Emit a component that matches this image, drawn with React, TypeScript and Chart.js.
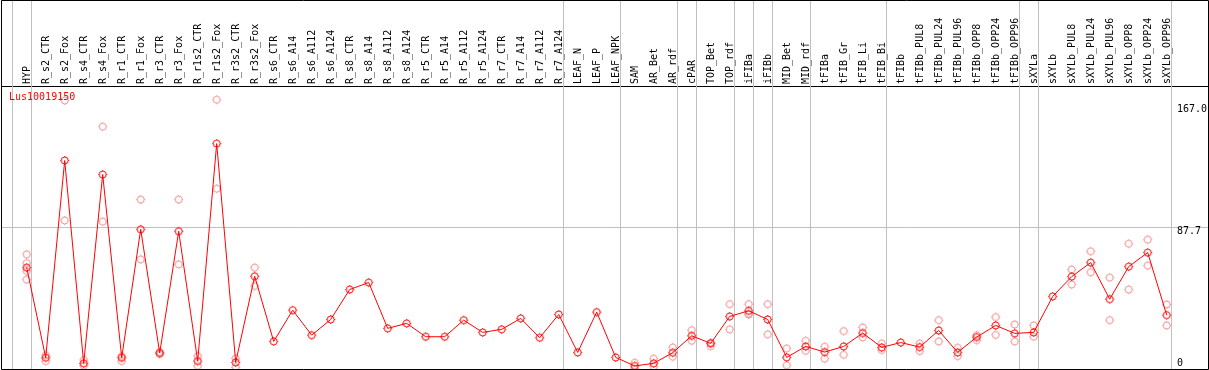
import React, { useEffect, useRef } from 'react';
import { Chart, registerables } from 'chart.js';

Chart.register(...registerables);

const seriesName = 'Lus10019150';

const categories = [
  'HYP', 'R_s2_CTR', 'R_s2_Fox', 'R_s4_CTR', 'R_s4_Fox', 'R_r1_CTR', 'R_r1_Fox', 'R_r3_CTR', 'R_r3_Fox',
  'R_r1s2_CTR', 'R_r1s2_Fox', 'R_r3s2_CTR', 'R_r3s2_Fox', 'R_s6_CTR', 'R_s6_A14', 'R_s6_A112', 'R_s6_A124',
  'R_s8_CTR', 'R_s8_A14', 'R_s8_A112', 'R_s8_A124', 'R_r5_CTR', 'R_r5_A14', 'R_r5_A112', 'R_r5_A124',
  'R_r7_CTR', 'R_r7_A14', 'R_r7_A112', 'R_r7_A124', 'LEAF_N', 'LEAF_P', 'LEAF_NPK', 'SAM', 'AR_Bet', 'AR_rdf',
  'cPAR', 'TOP_Bet', 'TOP_rdf', 'iFIBa', 'iFIBb', 'MID_Bet', 'MID_rdf', 'tFIBa', 'tFIB_Gr', 'tFIB_Li', 'tFIB_Bi',
  'tFIBb', 'tFIBb_PUL8', 'tFIBb_PUL24', 'tFIBb_PUL96', 'tFIBb_OPP8', 'tFIBb_OPP24', 'tFIBb_OPP96', 'sXYLa',
  'sXYLb', 'sXYLb_PUL8', 'sXYLb_PUL24', 'sXYLb_PUL96', 'sXYLb_OPP8', 'sXYLb_OPP24', 'sXYLb_OPP96',
];

const meanValues = [
  62.9, 7.0, 129.3, 3.5, 120.6, 7.0, 86.6, 9.9, 85.4,
  4.9, 139.8, 4.1, 57.5, 17.1, 36.5, 21.0, 30.7,
  49.3, 53.6, 25.2, 28.3, 20.0, 20.0, 30.3, 22.7,
  24.6, 31.4, 19.4, 33.8, 10.3, 35.3, 7.2, 1.9, 3.5, 10.1,
  20.6, 15.9, 32.6, 36.1, 30.7, 7.2, 14.0, 10.5, 14.0, 22.3, 13.4,
  16.4, 13.6, 23.9, 10.3, 19.8, 27.0, 22.1, 22.7,
  45.0, 57.3, 66.0, 43.3, 63.5, 72.2, 33.4,
];

const replicateValues: number[][] = [
  [71.1, 65.7, 60.8, 55.5], [8.5, 4.9], [166.5, 92.1], [5.6, 2.0], [150.3, 91.4], [8.0, 4.9], [105.1, 68.0], [10.5, 9.3], [105.1, 64.9],
  [8.0, 1.9], [167.0, 111.8], [6.6, 1.1], [62.9, 51.5], [], [], [], [],
  [], [], [], [], [], [], [], [],
  [], [], [], [], [], [], [], [3.9, 0.0], [6.4, 1.4], [13.4, 7.6],
  [24.1, 17.5], [16.3, 14.2], [40.2, 24.6], [40.2, 34.3, 33.8], [40.2, 21.5], [12.8, 2.3], [17.5, 11.3], [13.8, 6.4], [23.5, 8.8], [25.8, 19.6], [15.9, 11.8],
  [], [15.9, 11.1], [30.3, 17.1], [13.2, 8.0], [21.0, 17.9], [32.2, 21.2], [27.6, 17.1], [27.0, 20.0],
  [], [61.7, 52.4], [73.0, 60.0], [56.7, 30.3], [77.7, 49.3], [80.2, 64.1], [40.0, 27.0],
];

const yTickValues = [0, 87.7, 167.0];
const yMax = 175.5;

// index of the last category in each group (separator drawn just after it)
const groupEnds = [-1, 0, 28, 31, 34, 35, 37, 38, 39, 41, 45, 52, 53, 60];

const FONT = 'DejaVu Sans Mono';

function makeMarker(color: string): HTMLCanvasElement {
  const c = document.createElement('canvas');
  c.width = 11;
  c.height = 11;
  const g = c.getContext('2d') as CanvasRenderingContext2D;
  g.strokeStyle = color;
  g.fillStyle = color;
  g.lineWidth = 1;
  g.beginPath();
  g.arc(5.5, 5.5, 3.5, 0, Math.PI * 2);
  g.stroke();
  g.fillRect(5, 1, 1, 1);
  g.fillRect(5, 9, 1, 1);
  g.fillRect(1, 5, 1, 1);
  g.fillRect(9, 5, 1, 1);
  return c;
}

const decorPlugin = {
  id: 'decor',
  beforeDatasetsDraw(chart: any) {
    const { ctx, chartArea } = chart;
    const xs = chart.scales.x;
    ctx.save();
    ctx.strokeStyle = '#c0c0c0';
    ctx.lineWidth = 1;
    ctx.beginPath();
    for (const g of groupEnds) {
      const px = Math.round(xs.getPixelForValue(g) + 4) + 0.5;
      ctx.moveTo(px, 0);
      ctx.lineTo(px, chartArea.bottom);
    }
    ctx.stroke();
    ctx.restore();
  },
  afterDraw(chart: any) {
    const { ctx, chartArea } = chart;
    const ys = chart.scales.y;
    ctx.save();
    // outer frame
    ctx.strokeStyle = '#000';
    ctx.lineWidth = 1;
    ctx.beginPath();
    ctx.moveTo(chartArea.left + 0.5, 0.5);
    ctx.lineTo(chartArea.right + 0.5, 0.5);
    ctx.lineTo(chartArea.right + 0.5, chartArea.bottom + 0.5);
    ctx.lineTo(chartArea.left + 0.5, chartArea.bottom + 0.5);
    ctx.closePath();
    ctx.stroke();
    // series name
    ctx.font = `10px "${FONT}"`;
    ctx.fillStyle = '#ff0000';
    ctx.textAlign = 'left';
    ctx.textBaseline = 'middle';
    ctx.fillText(seriesName, chartArea.left + 8, chartArea.top + 11);
    // value labels on the right
    ctx.fillStyle = '#000';
    for (const v of yTickValues) {
      const py = ys.getPixelForValue(v);
      const y = Math.min(Math.max(py + 4, chartArea.top + 23), chartArea.bottom - 6);
      ctx.fillText(v === 0 ? '0' : v.toFixed(1), chartArea.right - 31, y);
    }
    ctx.restore();
  },
};

export default function App() {
  const ref = useRef<HTMLCanvasElement | null>(null);

  useEffect(() => {
    const canvas = ref.current;
    if (!canvas) return;
    const redMarker = makeMarker('#ff0000');
    const pinkMarker = makeMarker('#f09090');
    const meanData = meanValues.map((v, i) => ({ x: i, y: v }));
    const repData: { x: number; y: number }[] = [];
    replicateValues.forEach((vals, i) => vals.forEach((v) => repData.push({ x: i, y: v })));

    const chart = new Chart(canvas, {
      type: 'line',
      data: {
        datasets: [
          {
            label: seriesName,
            data: meanData,
            borderColor: '#ff0000',
            borderWidth: 1,
            pointStyle: redMarker as any,
            pointRadius: 5,
            tension: 0,
            order: 0,
            clip: false as any,
          },
          {
            type: 'scatter',
            label: 'replicates',
            data: repData,
            showLine: false,
            pointStyle: pinkMarker as any,
            pointRadius: 5,
            order: 1,
            clip: false as any,
          } as any,
        ],
      },
      options: {
        animation: false,
        responsive: false,
        devicePixelRatio: 1,
        events: [],
        layout: { autoPadding: false, padding: { left: 1, right: 1, top: 0, bottom: 1 } },
        plugins: { legend: { display: false }, tooltip: { enabled: false } },
        scales: {
          x: {
            type: 'linear',
            position: 'top',
            min: -1.3526,
            max: 62.174,
            afterBuildTicks: (s: any) => {
              s.ticks = categories.map((_, i) => ({ value: i }));
            },
            afterFit: (s: any) => {
              s.height = 86;
              s.paddingLeft = 0;
              s.paddingRight = 0;
            },
            grid: { display: false, drawTicks: false },
            border: { display: true, color: '#000', width: 1 },
            ticks: {
              autoSkip: false,
              minRotation: 90,
              maxRotation: 90,
              padding: 2,
              labelOffset: 13,
              color: '#000',
              font: { family: FONT, size: 10 },
              callback: (v: any) => categories[v] ?? '',
            },
          },
          y: {
            type: 'linear',
            position: 'right',
            min: 0,
            max: yMax,
            afterBuildTicks: (s: any) => {
              s.ticks = yTickValues.map((v) => ({ value: v }));
            },
            afterFit: (s: any) => {
              s.width = 0;
              s.paddingTop = 0;
              s.paddingBottom = 0;
            },
            ticks: { display: false },
            grid: {
              drawTicks: false,
              color: (c: any) => (c.tick && c.tick.value === 87.7 ? '#c0c0c0' : 'rgba(0,0,0,0)'),
            },
            border: { display: false },
          },
        },
      },
      plugins: [decorPlugin],
    });
    return () => chart.destroy();
  }, []);

  return (
    <div style={{ position: 'absolute', left: 0, top: 0, width: 1209, height: 370, background: '#fff' }}>
      <canvas ref={ref} width={1209} height={370} style={{ display: 'block' }} />
    </div>
  );
}
